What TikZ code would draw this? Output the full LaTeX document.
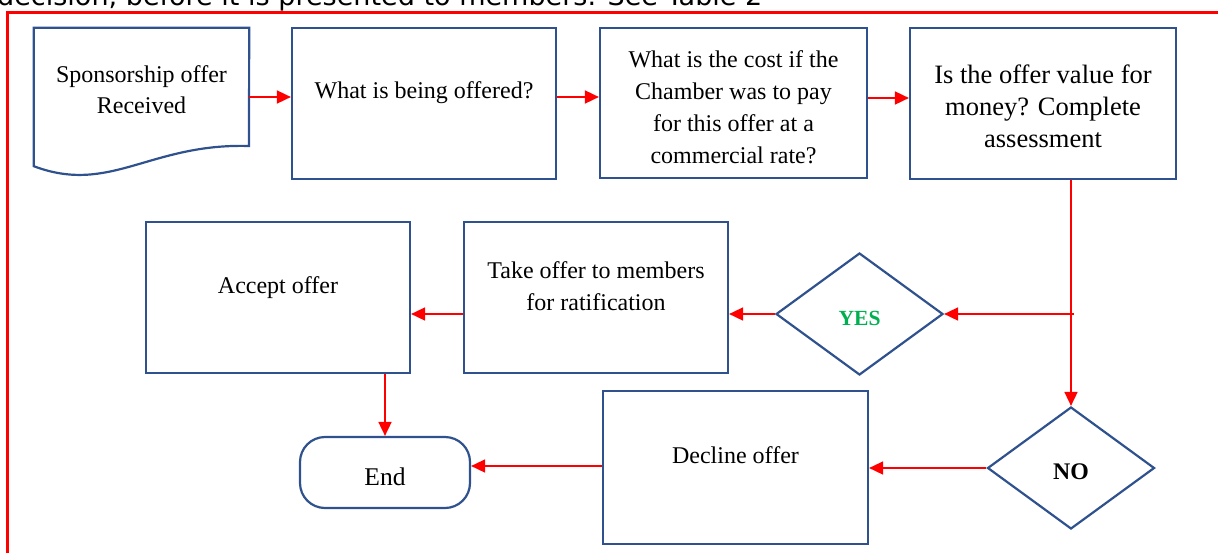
\documentclass[tikz,border=0pt]{standalone}
\usepackage{graphicx}
\usepackage{fontspec}
\setmainfont{Liberation Serif}
\newfontfamily\topfont{DejaVu Sans}
\usetikzlibrary{shapes.geometric,arrows.meta}
\definecolor{boxblue}{RGB}{47,82,143}
\definecolor{yesgreen}{RGB}{0,176,80}
\begin{document}
\begin{tikzpicture}[x=1pt,y=-1pt,
  box/.style={draw=boxblue,line width=2.2pt,rectangle,inner sep=0pt,align=center,
    font=\fontsize{24}{32}\selectfont},
  dia/.style={draw=boxblue,line width=2.2pt,diamond,inner sep=0pt,
    minimum width=167pt,minimum height=122pt,aspect=1.37},
  conn/.style={draw=red,line width=1.7pt,-{Triangle[length=14pt,width=13pt]}},
  frame/.style={draw=red,line width=3pt}]
\useasboundingbox (0,0) rectangle (1218,552);
\clip (0,0) rectangle (1218,552);

% cut-off caption line and frame
\node[anchor=base west,inner sep=0pt] (cap) at (-3,5)
  {\resizebox{765pt}{!}{\topfont decision, before it is presented to members. See Table 2}};
\draw[frame] (7,600) -- (7,12) -- (1240,12);

% document shape
\node[inner sep=0pt,minimum width=215pt,minimum height=138pt,align=center,
  font=\fontsize{24}{31}\selectfont] (doc) at (141.5,97)
  {Sponsorship offer\\Received\\[-16.6pt]\mbox{}};
\draw[boxblue,line width=2.2pt,line join=miter]
  (doc.north west) -- (doc.north east) -- (249,146)
  .. controls (150,143) and (110,195) .. (doc.south west) -- cycle;

% boxes
\node[box,minimum width=264pt,minimum height=151pt,text depth=26pt] (b2) at (424,103.5) {What is being offered?};
\node[box,minimum width=267pt,minimum height=150pt] (b3) at (733.5,103)
  {\mbox{}\\[-7.6pt]What is the cost if the\\Chamber was to pay\\for this offer at a\\commercial rate?};
\node[box,minimum width=266pt,minimum height=151pt,font=\fontsize{26.5}{32}\selectfont] (b4) at (1043,103.5)
  {\mbox{}\\[-7.7pt]Is the offer value for\\money? Complete\\assessment};
\node[box,minimum width=264pt,minimum height=151pt,text depth=24pt] (accept) at (278,297.5) {Accept offer};
\node[box,minimum width=264pt,minimum height=151pt] (take) at (596,297.5)
  {Take offer to members\\for ratification\\[-9pt]\mbox{}};
\node[box,minimum width=265pt,minimum height=153pt,text depth=25pt] (decline) at (735.5,467.5) {Decline offer};
\node[draw=boxblue,line width=2.2pt,rounded corners=25pt,minimum width=170pt,minimum height=71pt,
  inner sep=0pt,font=\fontsize{25.5}{30}\selectfont,text height=26pt] (end) at (385,472.5) {End};

% decisions
\node[dia,font=\bfseries\fontsize{21.6}{26}\selectfont,text=yesgreen,text height=23.5pt,text depth=0pt]
  (yes) at (859.5,314) {YES};
\node[dia,font=\bfseries\fontsize{23.8}{28}\selectfont,text height=23pt,text depth=0pt]
  (no) at (1071,468) {NO};

% connectors
\draw[conn] (doc.east) -- (doc.east -| b2.west);
\draw[conn] (b2.east |- doc.east) -- (b3.west |- doc.east);
\draw[conn] ([yshift=5pt]b3.east) -- ([yshift=5pt]b3.east -| b4.west);
\draw[conn] (b4.south -| no.north) -- (no.north);
\coordinate (j) at (1074,314);
\draw[conn] (j) -- (yes.east);
\draw[conn] (yes.west) -- (yes.west -| take.east);
\draw[conn] (take.west |- yes.west) -- (accept.east |- yes.west);
\draw[conn] (accept.south -| end.north) -- (end.north);
\draw[conn] (no.west) -- (no.west -| decline.east);
\draw[conn] ([yshift=1.5pt]decline.west) -- ([yshift=1.5pt]decline.west -| end.east);
\end{tikzpicture}
\end{document}
